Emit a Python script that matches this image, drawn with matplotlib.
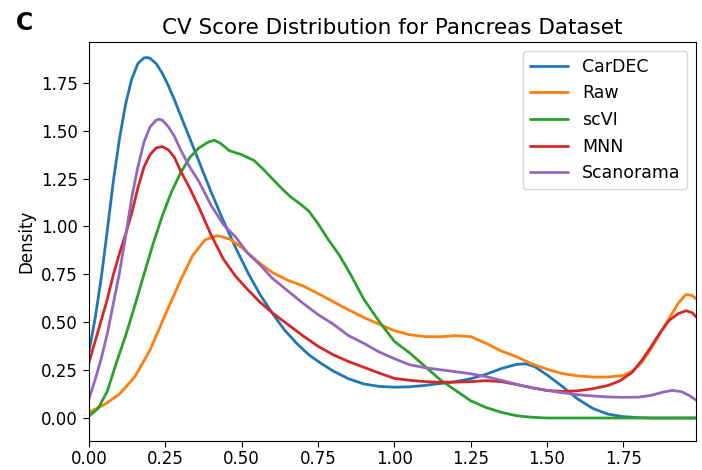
import matplotlib
matplotlib.use("Agg")
import matplotlib.pyplot as plt

labels = ["CarDEC", "Raw", "scVI", "MNN", "Scanorama"]
colors = ["#1f77b4", "#ff7f0e", "#2ca02c", "#d62728", "#9467bd"]

cardec_x = [0, 0.02, 0.04, 0.06, 0.08, 0.10, 0.12, 0.14, 0.16, 0.18, 0.19, 0.20, 0.22, 0.24, 0.26,
            0.28, 0.30, 0.33, 0.36, 0.40, 0.44, 0.48, 0.52, 0.56, 0.60, 0.64, 0.68, 0.72, 0.76, 0.80,
            0.85, 0.90, 0.95, 1.00, 1.05, 1.10, 1.15, 1.20, 1.25, 1.30, 1.35, 1.40, 1.43, 1.46, 1.50,
            1.55, 1.60, 1.65, 1.70, 1.75, 1.80, 1.85, 1.99]
cardec_y = [0.345, 0.52, 0.73, 0.98, 1.24, 1.46, 1.64, 1.77, 1.85, 1.88, 1.882, 1.878, 1.85, 1.80, 1.735,
            1.66, 1.58, 1.46, 1.34, 1.18, 1.03, 0.89, 0.76, 0.645, 0.548, 0.46, 0.39, 0.33, 0.285, 0.245,
            0.205, 0.178, 0.165, 0.161, 0.163, 0.17, 0.18, 0.19, 0.205, 0.228, 0.258, 0.28, 0.283, 0.268, 0.225,
            0.165, 0.10, 0.05, 0.02, 0.007, 0.002, 0.0, 0.0]

raw_x = [0, 0.05, 0.10, 0.15, 0.20, 0.25, 0.30, 0.34, 0.38, 0.42, 0.46, 0.50, 0.55, 0.60, 0.65,
         0.70, 0.75, 0.80, 0.85, 0.90, 0.95, 1.00, 1.05, 1.10, 1.15, 1.20, 1.25, 1.30, 1.35, 1.40,
         1.45, 1.50, 1.55, 1.60, 1.65, 1.70, 1.75, 1.78, 1.81, 1.84, 1.87, 1.90, 1.93, 1.955, 1.975, 1.99]
raw_y = [0.03, 0.07, 0.125, 0.215, 0.355, 0.54, 0.72, 0.85, 0.93, 0.952, 0.935, 0.89, 0.82, 0.76, 0.72,
         0.69, 0.65, 0.607, 0.565, 0.525, 0.49, 0.456, 0.435, 0.425, 0.424, 0.43, 0.425, 0.39, 0.35, 0.32,
         0.283, 0.255, 0.232, 0.22, 0.214, 0.214, 0.222, 0.245, 0.29, 0.36, 0.44, 0.52, 0.60, 0.645, 0.64, 0.62]

scvi_x = [0, 0.03, 0.06, 0.09, 0.12, 0.15, 0.18, 0.21, 0.24, 0.27, 0.30, 0.33, 0.36, 0.39, 0.41,
          0.43, 0.46, 0.50, 0.54, 0.57, 0.60, 0.63, 0.66, 0.69, 0.72, 0.75, 0.78, 0.82, 0.86, 0.90,
          0.95, 1.00, 1.05, 1.10, 1.15, 1.20, 1.25, 1.30, 1.35, 1.40, 1.45, 1.50, 1.99]
scvi_y = [0.01, 0.05, 0.14, 0.29, 0.43, 0.586, 0.75, 0.91, 1.055, 1.18, 1.28, 1.36, 1.41, 1.44, 1.45,
          1.435, 1.395, 1.375, 1.345, 1.30, 1.25, 1.20, 1.155, 1.12, 1.08, 1.015, 0.94, 0.85, 0.74, 0.62,
          0.505, 0.40, 0.34, 0.27, 0.20, 0.145, 0.09, 0.055, 0.03, 0.012, 0.004, 0.0, 0.0]

mnn_x = [0, 0.02, 0.04, 0.06, 0.08, 0.10, 0.12, 0.14, 0.16, 0.18, 0.20, 0.22, 0.24, 0.26, 0.28,
         0.30, 0.33, 0.36, 0.40, 0.44, 0.48, 0.52, 0.56, 0.60, 0.65, 0.70, 0.75, 0.80, 0.85, 0.90,
         0.95, 1.00, 1.05, 1.10, 1.15, 1.20, 1.25, 1.30, 1.35, 1.40, 1.45, 1.50, 1.55, 1.60, 1.65,
         1.70, 1.74, 1.78, 1.81, 1.84, 1.87, 1.90, 1.93, 1.955, 1.975, 1.99]
mnn_y = [0.29, 0.40, 0.51, 0.62, 0.75, 0.86, 0.96, 1.07, 1.20, 1.31, 1.375, 1.41, 1.417, 1.40, 1.36,
         1.29, 1.20, 1.10, 0.955, 0.83, 0.74, 0.67, 0.605, 0.55, 0.49, 0.43, 0.375, 0.33, 0.295, 0.265,
         0.235, 0.207, 0.197, 0.19, 0.187, 0.187, 0.19, 0.195, 0.19, 0.175, 0.158, 0.144, 0.139, 0.142, 0.153,
         0.17, 0.195, 0.24, 0.30, 0.37, 0.445, 0.51, 0.545, 0.56, 0.55, 0.526]

scan_x = [0, 0.02, 0.04, 0.06, 0.08, 0.10, 0.12, 0.14, 0.16, 0.18, 0.20, 0.22, 0.23, 0.24, 0.26,
          0.28, 0.30, 0.33, 0.36, 0.40, 0.44, 0.48, 0.52, 0.56, 0.60, 0.65, 0.70, 0.75, 0.80, 0.85,
          0.90, 0.95, 1.00, 1.05, 1.10, 1.15, 1.20, 1.25, 1.30, 1.35, 1.40, 1.45, 1.50, 1.55, 1.60,
          1.65, 1.70, 1.75, 1.80, 1.84, 1.88, 1.91, 1.94, 1.965, 1.99]
scan_y = [0.10, 0.20, 0.31, 0.44, 0.60, 0.76, 0.95, 1.15, 1.31, 1.44, 1.52, 1.555, 1.56, 1.555, 1.52,
          1.47, 1.40, 1.31, 1.235, 1.11, 1.01, 0.945, 0.86, 0.80, 0.73, 0.665, 0.60, 0.54, 0.49, 0.43,
          0.39, 0.345, 0.31, 0.278, 0.263, 0.252, 0.242, 0.231, 0.216, 0.197, 0.176, 0.158, 0.144, 0.132, 0.122,
          0.115, 0.110, 0.108, 0.109, 0.118, 0.135, 0.144, 0.138, 0.118, 0.092]

series = [(cardec_x, cardec_y), (raw_x, raw_y), (scvi_x, scvi_y), (mnn_x, mnn_y), (scan_x, scan_y)]

fig = plt.figure(figsize=(7.02, 4.70), dpi=100)
ax = fig.add_axes([89 / 702, 29 / 470, 607 / 702, 399 / 470])
for (xs, ys), lab, c in zip(series, labels, colors):
    ax.plot(xs, ys, color=c, lw=2.0, label=lab, solid_joinstyle="round", solid_capstyle="round")

ax.set_xlim(0, 1.988)
ax.set_ylim(-0.12, 1.963)
ax.set_xticks([0, 0.25, 0.5, 0.75, 1.0, 1.25, 1.5, 1.75])
ax.set_yticks([0, 0.25, 0.5, 0.75, 1.0, 1.25, 1.5, 1.75])
ax.tick_params(labelsize=12, length=4.5)
ax.tick_params(axis="x", pad=2)
ax.set_ylabel("Density", fontsize=12)
ax.set_title("CV Score Distribution for Pancreas Dataset", fontsize=15.5, pad=6)
ax.legend(loc="upper right", fontsize=12.5, handlelength=2.2)
fig.text(0.022, 0.95, "C", fontsize=17, fontweight="bold", va="center")
fig.savefig("out.png", dpi=100)
